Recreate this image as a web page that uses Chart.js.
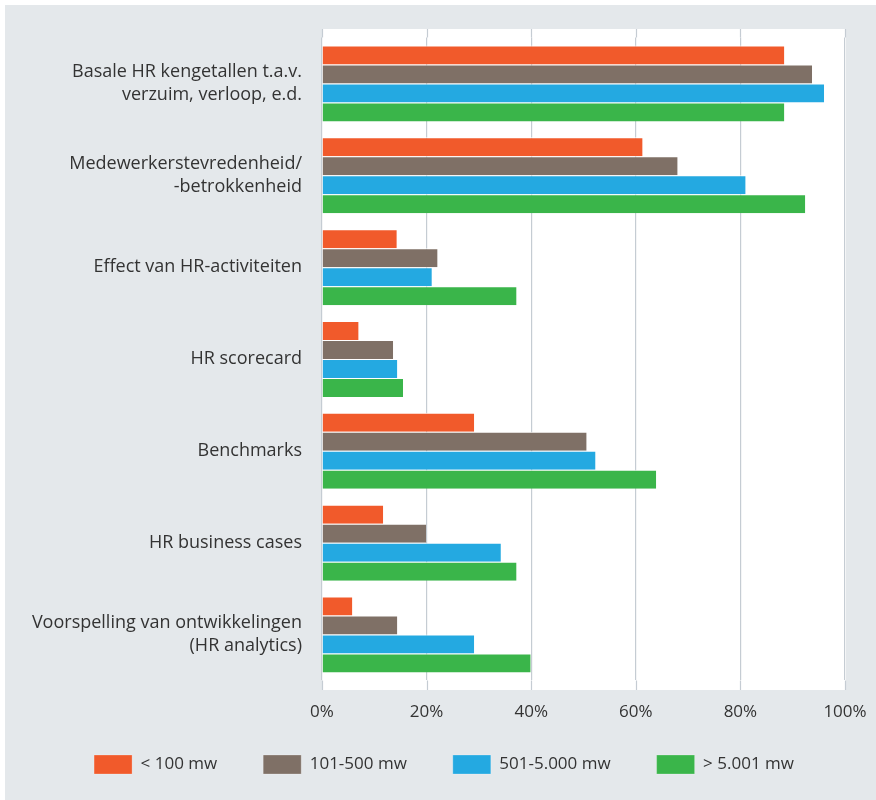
<!DOCTYPE html>
<html>
<head>
<meta charset="utf-8">
<script src="https://cdn.jsdelivr.net/npm/chart.js@4/dist/chart.umd.min.js"></script>
<style>
  html, body { margin: 0; padding: 0; background: #fff; }
  #wrap { position: absolute; left: 5px; top: 5px; width: 871px; height: 795px; background: #e4e8eb; }
</style>
</head>
<body>
<div id="wrap"><canvas id="myChart"></canvas></div>
<script>
var categories = [
    ["Basale HR kengetallen t.a.v.", "verzuim, verloop, e.d."],
    ["Medewerkerstevredenheid/", "-betrokkenheid"],
    "Effect van HR-activiteiten",
    "HR scorecard",
    "Benchmarks",
    "HR business cases",
    ["Voorspelling van ontwikkelingen", "(HR analytics)"]
];
var seriesNames = ["< 100 mw", "101-500 mw", "501-5.000 mw", "> 5.001 mw"];
var under100 = [88.4, 61.3, 14.3, 7.0, 29.1, 11.7, 5.8];
var from101 = [93.7, 68.0, 22.1, 13.6, 50.6, 19.9, 14.4];
var from501 = [96.0, 81.0, 21.0, 14.4, 52.3, 34.2, 29.1];
var over5001 = [88.4, 92.4, 37.2, 15.5, 63.9, 37.2, 39.9];
var xTicks = [0, 20, 40, 60, 80, 100];
var colors = ['#f15a2b', '#7f7066', '#24a9e1', '#3ab54a'];

// white plot panel that reaches a bit past the chart area, with grid lines carried on
var panel = {
    id: 'panel',
    afterLayout: function (chart) {
        // nudge the legend up and to the right
        var l = chart.legend;
        l.top -= 16; l.bottom -= 16;
        l.left += 19; l.right += 19;
    },
    beforeDraw: function (chart) {
        var a = chart.chartArea, c = chart.ctx;
        c.save();
        c.fillStyle = '#ffffff';
        c.fillRect(a.left, a.top - 8.6, a.right - a.left + 1, a.bottom - a.top + 18.2);
        c.restore();
    },
    beforeDatasetsDraw: function (chart) {
        var a = chart.chartArea, c = chart.ctx, xs = chart.scales.x;
        c.save();
        c.strokeStyle = '#c5ccd3';
        c.lineWidth = 1.2;
        xs.ticks.forEach(function (t) {
            var px = Math.round(xs.getPixelForValue(t.value)) + 0.5;
            c.beginPath();
            c.moveTo(px, a.top - 8.6);
            c.lineTo(px, a.top);
            c.moveTo(px, a.bottom);
            c.lineTo(px, a.bottom + 9.6);
            c.stroke();
        });
        c.restore();
    }
};

var data = [under100, from101, from501, over5001];
var ctx = document.getElementById('myChart').getContext('2d');
var chart = new Chart(ctx, {
    type: 'bar',
    data: {
        labels: categories,
        datasets: data.map(function (d, i) {
            return {
                label: seriesNames[i],
                data: d,
                backgroundColor: colors[i],
                borderColor: '#ffffff',
                borderWidth: { top: 1, bottom: 0, left: 0, right: 0 },
                borderSkipped: false,
                barPercentage: 1,
                categoryPercentage: 0.828
            };
        })
    },
    plugins: [panel],
    options: {
        indexAxis: 'y',
        responsive: true,
        maintainAspectRatio: false,
        animation: false,
        layout: { padding: { top: 32.6, right: 31, left: 0, bottom: 0 } },
        scales: {
            x: {
                min: 0,
                max: 100,
                afterBuildTicks: function (s) {
                    s.ticks = xTicks.map(function (v) { return { value: v }; });
                },
                border: { display: false },
                grid: { color: '#c5ccd3', lineWidth: 1.2, drawTicks: false },
                ticks: {
                    padding: 22,
                    color: '#333',
                    font: { family: 'Open Sans', size: 17 },
                    callback: function (v) { return v + '%'; }
                },
                afterFit: function (s) {
                    s.height = 44.6;
                    s.paddingLeft = 0;
                    s.paddingRight = 0;
                }
            },
            y: {
                border: { display: false },
                grid: { display: false },
                ticks: {
                    padding: 12,
                    color: '#333',
                    font: { family: 'Open Sans', size: 18, lineHeight: 1.28 }
                },
                afterFit: function (s) {
                    s.width = 317;
                    s.paddingTop = 0;
                    s.paddingBottom = 0;
                }
            }
        },
        plugins: {
            tooltip: { enabled: false },
            legend: {
                position: 'bottom',
                labels: {
                    boxWidth: 38,
                    boxHeight: 19,
                    padding: 46,
                    color: '#333',
                    font: { family: 'Open Sans', size: 17 }
                }
            }
        }
    }
});
</script>
</body>
</html>
